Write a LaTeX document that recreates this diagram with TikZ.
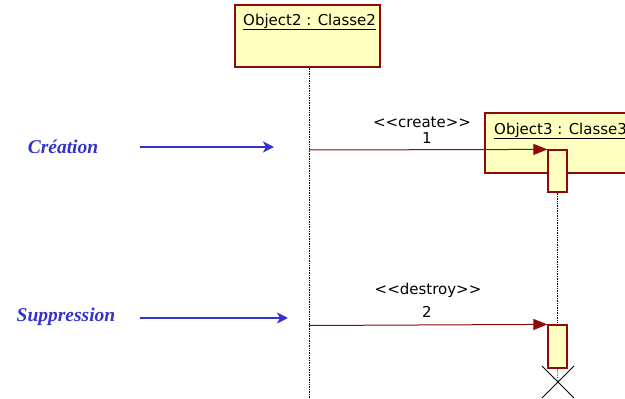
\documentclass[tikz,border=0pt]{standalone}
\usepackage{fontspec}
\setmainfont{Liberation Serif}
\setsansfont{DejaVu Sans}
\usetikzlibrary{arrows.meta}
\definecolor{boxfill}{RGB}{255,255,192}
\definecolor{boxline}{RGB}{140,10,10}
\definecolor{msgred}{RGB}{140,10,10}
\definecolor{noteblue}{RGB}{51,51,204}
\tikzset{
  objbox/.style={draw=boxline, fill=boxfill, line width=1.2pt, rectangle, inner sep=0pt},
  objtext/.style={font=\sffamily\fontsize{15}{17}\selectfont, inner sep=0pt, anchor=west},
  actbar/.style={draw=boxline, fill=boxfill, line width=1.2pt, rectangle, inner sep=0pt, minimum width=19pt},
  lifeline/.style={densely dotted, line width=0.7pt, black},
  msg/.style={draw=msgred, line width=1pt, -{Triangle[length=14pt,width=11pt]}, color=msgred},
  msglab/.style={font=\sffamily\fontsize{15}{17}\selectfont, inner sep=0pt},
  notetext/.style={font=\bfseries\itshape\fontsize{19.5}{22}\selectfont, text=noteblue, inner sep=0pt},
  notearrow/.style={draw=noteblue, line width=2pt, -{Stealth[length=11pt,width=11pt,inset=3pt]}}
}
\begin{document}
\begin{tikzpicture}[x=1pt,y=-1pt]
\useasboundingbox (0,0) rectangle (625,399);
% Object2
\node[objbox, minimum width=145pt, minimum height=62pt] (o2) at (307.5,36) {};
\node[objtext] (o2t) at (243,22) {\underline{Object2 : Classe2}};
\coordinate (o2end) at (309,399);
\draw[lifeline] (o2.south -| o2end) -- (o2end);
% Object3
\node[objbox, minimum width=160pt, minimum height=60pt] (o3) at (565,143) {};
\node[objtext] (o3t) at (494,131) {\underline{Object3 : Classe3}};
% activation bars
\node[actbar, minimum height=42pt] (act1) at (557.5,171) {};
\node[actbar, minimum height=43pt] (act2) at (557.5,346.5) {};
\draw[lifeline] (act1.south) -- (act2.north);
% destruction cross
\coordinate (xc) at (558,382);
\draw[lifeline] (act2.south) -- (xc);
\draw[line width=1pt] ([shift={(-16,-16)}]xc) -- ([shift={(16,16)}]xc);
\draw[line width=1pt] ([shift={(16,-16)}]xc) -- ([shift={(-16,16)}]xc);
% messages
\coordinate (m1s) at (309,150);
\coordinate (m2s) at (309,325.5);
\draw[msg] (m1s) -- (act1.north west);
\draw[msg] (m2s) -- (act2.north west);
\node[msglab] (l1a) at (422,122) {<{}<create>{}>};
\node[msglab] (l1b) at (427,138) {1};
\node[msglab] (l2a) at (428,290) {<{}<destroy>{}>};
\node[msglab] (l2b) at (427,312) {2};
% notes
\node[notetext] (n1) at (63,147) {Création};
\coordinate (a1s) at (140,147);
\coordinate (a1e) at (274,147);
\draw[notearrow] (a1s) -- (a1e);
\node[notetext] (n2) at (66,317) {Suppression};
\coordinate (a2s) at (140,318);
\coordinate (a2e) at (288,318);
\draw[notearrow] (a2s) -- (a2e);
\end{tikzpicture}
\end{document}
